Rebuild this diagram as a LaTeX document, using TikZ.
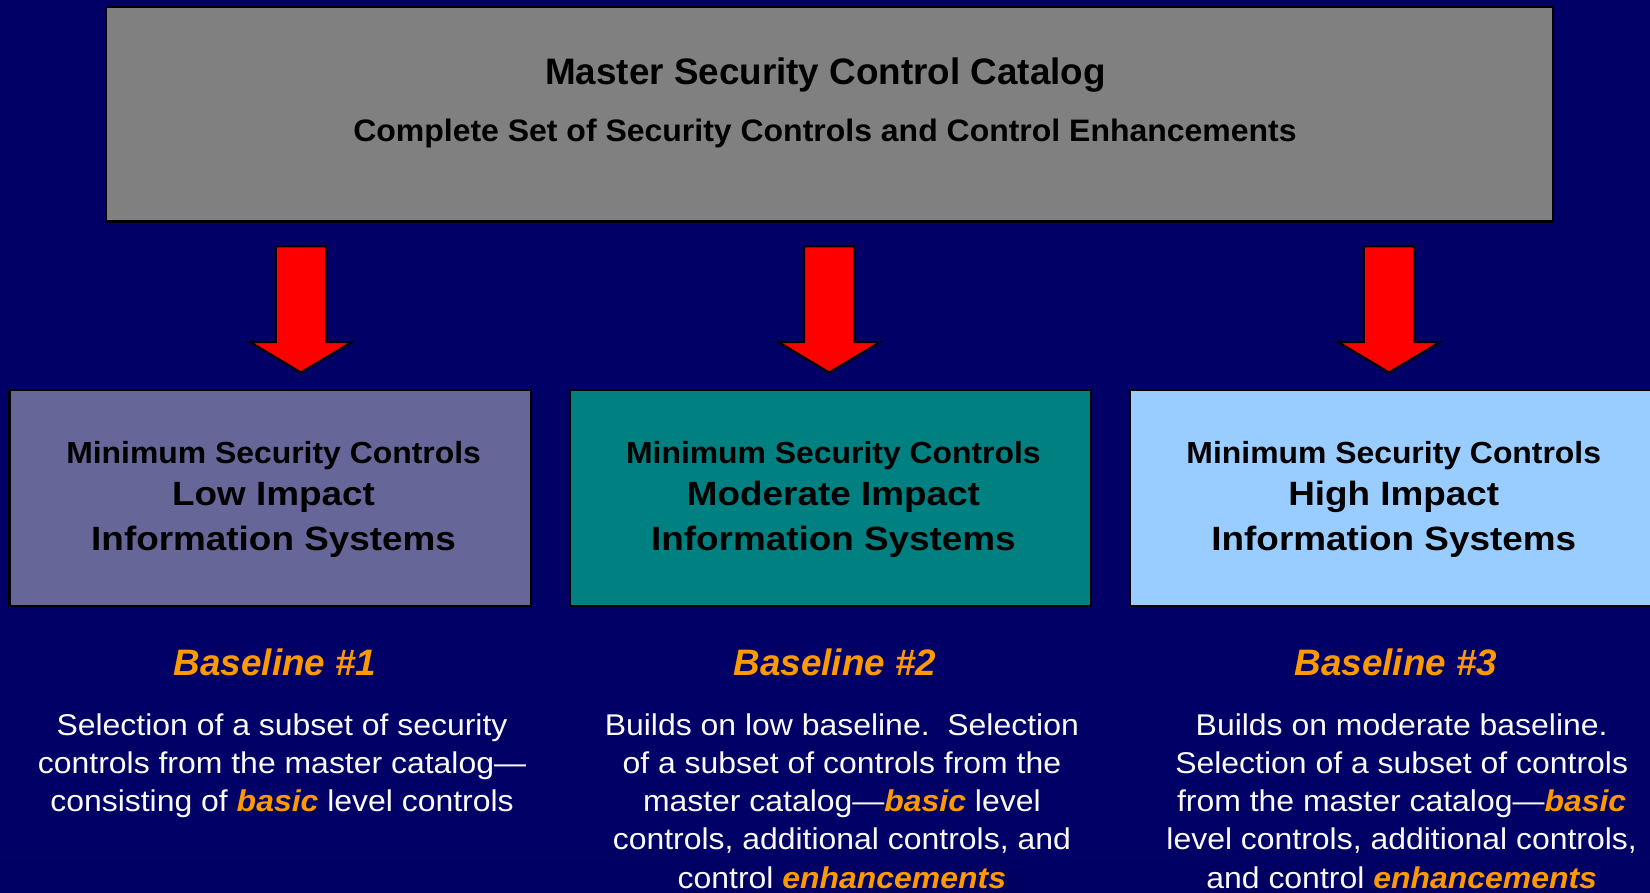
\documentclass[tikz,border=0pt]{standalone}
\usepackage{fontspec}
\setmainfont{Liberation Sans}
\definecolor{bgtop}{RGB}{0,0,66}
\definecolor{bgmid}{RGB}{0,0,102}
\definecolor{bgbot}{RGB}{0,0,64}
\definecolor{mastergray}{RGB}{128,128,128}
\definecolor{lowfill}{RGB}{102,102,153}
\definecolor{modfill}{RGB}{0,128,128}
\definecolor{highfill}{RGB}{153,204,255}
\definecolor{accent}{RGB}{255,153,0}
\definecolor{arrowred}{RGB}{255,0,0}
\definecolor{desctext}{RGB}{250,250,250}
\pgfdeclareverticalshading{bgshade}{100bp}{color(0bp)=(bgbot); color(28bp)=(bgmid); color(94bp)=(bgmid); color(100bp)=(bgtop)}
\newcommand{\accentword}[1]{\textcolor{accent}{\bfseries\itshape #1}}
\newcommand{\ftitle}{\fontsize{35}{42}\selectfont\bfseries}
\newcommand{\fsub}{\fontsize{29.5}{35}\selectfont\bfseries}
\newcommand{\fmin}{\fontsize{29}{34}\selectfont\bfseries}
\newcommand{\fbig}{\fontsize{32}{38}\selectfont\bfseries}
\newcommand{\fbase}{\fontsize{35}{42}\selectfont\bfseries\itshape}
\newcommand{\fdesc}{\fontsize{28.5}{36.4}\selectfont}
\newcommand{\desclines}[1]{\scalebox{1.065}[1]{\setlength{\tabcolsep}{0pt}\begin{tabular}[t]{c}#1\end{tabular}}}
\begin{document}
\begin{tikzpicture}[x=1pt,y=1pt,
  box/.style={draw=black, line width=2pt, rectangle, inner sep=0pt},
  txt/.style={inner sep=0pt, anchor=base, text=black},
  basetxt/.style={inner sep=0pt, anchor=base, text=accent, font=\fbase},
  desc/.style={inner sep=0pt, anchor=base, text=desctext, font=\fdesc},
  blockarrow/.style={fill=arrowred, draw=black, line width=2pt, line join=miter}]
\useasboundingbox (0,0) rectangle (1568,848);
\shade[shading=bgshade] (0,0) rectangle (1568,848);

% master catalog
\node[box, fill=mastergray, minimum width=1375pt, minimum height=204pt] (master) at (788.5,739.5) {};
\node[txt, font=\ftitle] (mtitle) at (784.5,768) {Master Security Control Catalog};
\node[txt, font=\fsub] (msub) at (784,713.4) {\scalebox{1.03}[1]{Complete Set of Security Controls and Control Enhancements}};

% arrows
\coordinate (tip1) at (286,494);
\coordinate (tip2) at (788,494);
\coordinate (tip3) at (1320,494);
\foreach \t in {tip1,tip2,tip3}{
  \draw[blockarrow] (\t) -- ++(-48.5,29) -- ++(24.5,0) -- ++(0,91) -- ++(48,0) -- ++(0,-91) -- ++(24.5,0) -- cycle;
}

% baseline boxes
\node[box, fill=lowfill, minimum width=496pt, minimum height=205pt] (low) at (257,374.5) {};
\node[box, fill=modfill, minimum width=495pt, minimum height=205pt] (mod) at (789.5,374.5) {};
\node[box, fill=highfill, minimum width=496pt, minimum height=205pt] (high) at (1322,374.5) {};

\node[txt, font=\fmin] (lowA) at (260,408) {\scalebox{1.045}[1]{Minimum Security Controls}};
\node[txt, font=\fbig] (lowB) at (260,367.5) {\scalebox{1.095}[1]{Low Impact}};
\node[txt, font=\fbig] (lowC) at (260,325.3) {\scalebox{1.095}[1]{Information Systems}};

\node[txt, font=\fmin] (modA) at (792,408) {\scalebox{1.045}[1]{Minimum Security Controls}};
\node[txt, font=\fbig] (modB) at (792,367.5) {\scalebox{1.095}[1]{Moderate Impact}};
\node[txt, font=\fbig] (modC) at (792,325.3) {\scalebox{1.095}[1]{Information Systems}};

\node[txt, font=\fmin] (highA) at (1324.5,408) {\scalebox{1.045}[1]{Minimum Security Controls}};
\node[txt, font=\fbig] (highB) at (1324.5,367.5) {\scalebox{1.095}[1]{High Impact}};
\node[txt, font=\fbig] (highC) at (1324.5,325.3) {\scalebox{1.095}[1]{Information Systems}};

% baseline headings
\node[basetxt] (b1) at (261.5,206.5) {Baseline \#1};
\node[basetxt] (b2) at (793.5,206.5) {Baseline \#2};
\node[basetxt] (b3) at (1326.5,206.5) {Baseline \#3};

% descriptions
\node[desc] (d1) at (268,149.5) {\desclines{Selection of a subset of security\\controls from the master catalog\textemdash\\consisting of \accentword{basic} level controls}};
\node[desc] (d2) at (800,149.5) {\desclines{Builds on low baseline.\ \ Selection\\of a subset of controls from the\\master catalog\textemdash\accentword{basic} level\\controls, additional controls, and\\control \accentword{enhancements}}};
\node[desc] (d3) at (1332,149.5) {\desclines{Builds on moderate baseline.\\Selection of a subset of controls\\from the master catalog\textemdash\accentword{basic}\\level controls, additional controls,\\and control \accentword{enhancements}}};
\end{tikzpicture}
\end{document}
